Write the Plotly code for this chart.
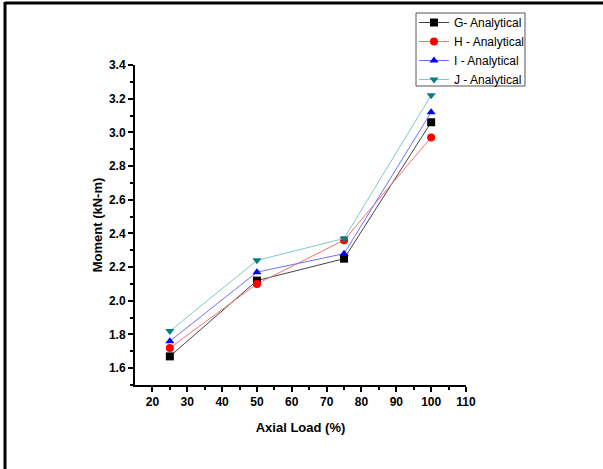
import plotly.graph_objects as go

axial_load = [25, 50, 75, 100]
g_vals = [1.67, 2.12, 2.25, 3.06]
h_vals = [1.72, 2.10, 2.36, 2.97]
i_vals = [1.76, 2.17, 2.28, 3.12]
j_vals = [1.82, 2.24, 2.37, 3.22]

series = [
    ("G- Analytical", g_vals, "black", "#444444", "square"),
    ("H - Analytical", h_vals, "red", "#ff7070", "circle"),
    ("I - Analytical", i_vals, "blue", "#7070ff", "triangle-up"),
    ("J - Analytical", j_vals, "#008080", "#80c8c8", "triangle-down"),
]

fig = go.Figure()
for name, vals, mcol, lcol, sym in series:
    fig.add_trace(go.Scatter(
        x=axial_load, y=vals, name=name, mode="lines+markers",
        line=dict(color=lcol, width=1),
        marker=dict(symbol=sym, color=mcol, size=8),
    ))

W, H = 603, 469
L, R, T, B = 135, 466, 65, 385
pw, ph = R - L, B - T

def px(x):
    return (x - L) / pw

def py(y):
    return (B - y) / ph

fig.update_layout(
    width=W, height=H,
    margin=dict(l=L, r=W - R, t=T, b=H - B, autoexpand=False),
    paper_bgcolor="white", plot_bgcolor="white",
    font=dict(family="Arial, Liberation Sans", size=12, color="black"),
    showlegend=True,
    legend=dict(
        x=px(414), y=py(8), xanchor="left", yanchor="top",
        borderwidth=0, bgcolor="rgba(0,0,0,0)",
        font=dict(size=12), tracegroupgap=0, itemwidth=30,
    ),
    xaxis=dict(
        range=[15, 110], tickmode="array",
        tickvals=list(range(20, 111, 10)),
        ticktext=["<b>%d</b>" % v for v in range(20, 111, 10)],
        showgrid=False, zeroline=False,
        showline=True, linecolor="black", linewidth=2,
        ticks="outside", ticklen=5, tickwidth=1.5, tickcolor="black",
        minor=dict(ticks="outside", ticklen=3, tickwidth=1.5, tickcolor="black",
                   tickvals=list(range(25, 110, 10))),
        tickfont=dict(size=12, color="black"),
        title=dict(text="<b>Axial Load (%)</b>", font=dict(size=13), standoff=14),
    ),
    yaxis=dict(
        range=[1.5, 3.4], tickmode="array",
        tickvals=[1.6, 1.8, 2.0, 2.2, 2.4, 2.6, 2.8, 3.0, 3.2, 3.4],
        ticktext=["<b>%.1f</b>" % v for v in [1.6, 1.8, 2.0, 2.2, 2.4, 2.6, 2.8, 3.0, 3.2, 3.4]],
        showgrid=False, zeroline=False,
        showline=True, linecolor="black", linewidth=2,
        ticks="outside", ticklen=5, tickwidth=1.5, tickcolor="black",
        minor=dict(ticks="outside", ticklen=3, tickwidth=1.5, tickcolor="black",
                   tickvals=[1.5, 1.7, 1.9, 2.1, 2.3, 2.5, 2.7, 2.9, 3.1, 3.3]),
        tickfont=dict(size=12, color="black"),
        title=dict(text="<b>Moment (kN-m)</b>", font=dict(size=13), standoff=3),
    ),
    shapes=[
        dict(type="line", xref="paper", yref="paper",
             x0=px(5), x1=px(603), y0=py(3), y1=py(3),
             line=dict(color="black", width=3)),
        dict(type="line", xref="paper", yref="paper",
             x0=px(5), x1=px(5), y0=py(2), y1=py(469),
             line=dict(color="black", width=3)),
        dict(type="rect", xref="paper", yref="paper",
             x0=px(416), x1=px(525), y0=py(13), y1=py(86),
             line=dict(color="#555555", width=1)),
    ],
)

fig.write_html("out.html")
